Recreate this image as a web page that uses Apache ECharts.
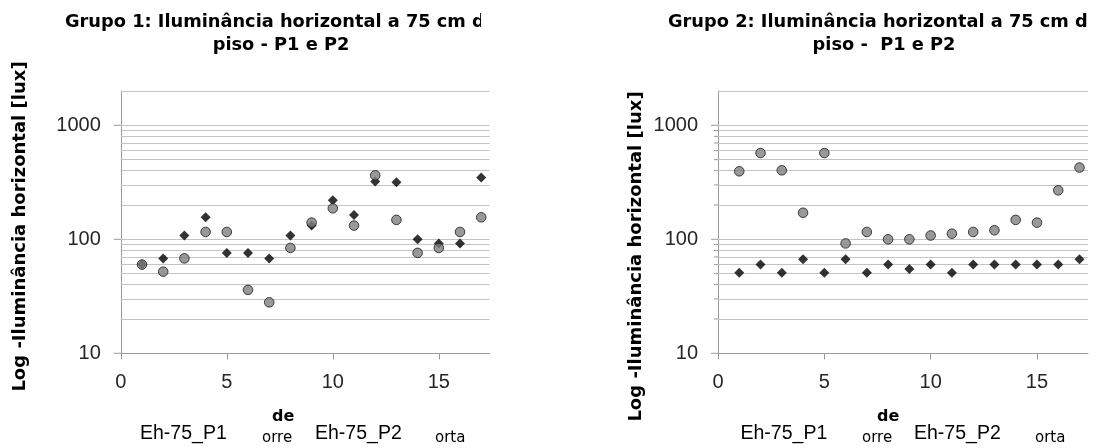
<!DOCTYPE html>
<html><head><meta charset="utf-8">
<script src="https://cdn.jsdelivr.net/npm/echarts@6/dist/echarts.min.js"></script>
<style>html,body{margin:0;padding:0;background:#fff}#c{width:1103px;height:448px}</style>
</head><body><div id="c"></div>
<script>
// ---- data ----
const pointIds = [1,2,3,4,5,6,7,8,9,10,11,12,13,14,15,16,17];
const g1P1 = [60,68,108,156,76,76,68,108,132,220,163,321,316,100,92,92,348];
const g1P2 = [60,52,68,116,116,36,28,84,140,187,132,364,148,76,84,116,156];
const g2P1 = [51,60,51,67,51,67,51,60,55,60,51,60,60,60,60,60,67];
const g2P2 = [395,571,403,171,571,92,116,100,100,108,112,116,120,148,140,269,426];
const xTicks = [0,5,10,15];
const yMajor = [10,100,1000];
const yMinor = [20,30,40,50,60,70,80,90,200,300,400,500,600,700,800,900];
const yTop = 2000;
const titles = ['Grupo 1: Iluminância horizontal a 75 cm do\npiso - P1 e P2',
                'Grupo 2: Iluminância horizontal a 75 cm do\npiso -  P1 e P2'];
const yTitle = 'Log -Iluminância horizontal [lux]';
const seriesNames = ['Eh-75_P1','Eh-75_P2'];
const fragments = ['de','orre','orta'];

// ---- layout ----
const grids = [
  {left:120.8, top:91, width:368.9, height:262.3},
  {left:718, top:91, width:370, height:262.3}
];
const AX = '#9a9a9a', GRIDC = '#c4c4c4';
const tickFont = 'Liberation Sans';

const chart = echarts.init(document.getElementById('c'));

function xAx(i){ return {
  type:'value', gridIndex:i, min:0, max:17.4,
  axisLine:{onZero:false, lineStyle:{color:AX}},
  axisTick:{customValues:xTicks, length:6, lineStyle:{color:AX}},
  axisLabel:{customValues:xTicks, margin:19, fontFamily:tickFont, fontSize:20, color:'#262626'},
  splitLine:{show:false}
};}
function yAx(i){ return {
  type:'log', logBase:10, gridIndex:i, min:10, max:yTop,
  axisLine:{show:true, lineStyle:{color:AX}},
  axisTick:{show:false},
  axisLabel:{margin:20, fontFamily:tickFont, fontSize:20, color:'#262626',
    formatter:v=>{const l=Math.log10(v);return (Math.abs(l-Math.round(l))<1e-6 && v<=1000)?String(Math.round(v)):'';}},
  splitLine:{show:false}, minorSplitLine:{show:false}
};}
function tickSeries(i, values){ return {
  type:'custom', xAxisIndex:i, yAxisIndex:i, silent:true, clip:false,
  data: values.map(v=>[0,v]), encode:{x:0,y:1},
  renderItem:(params, api)=>{
    const v = api.value(1); const p = api.coord([0, v]);
    const l = Math.log10(v); const major = Math.abs(l-Math.round(l))<1e-6;
    const len = major ? 7 : 4;
    return {type:'line', shape:{x1:p[0]-len, y1:p[1], x2:p[0], y2:p[1]}, style:{stroke:AX, lineWidth:1}};
  }
};}
function pts(arr){ return pointIds.map((x,k)=>[x, arr[k]]); }
function groupSeries(i, p1, p2){
  const lines = yMinor.concat([100,1000,yTop]).map(v=>({yAxis:v}));
  return [
    {name:seriesNames[0], type:'scatter', xAxisIndex:i, yAxisIndex:i, data:pts(p1),
     symbol:'diamond', symbolSize:10, itemStyle:{color:'#000'},
     markLine:{z:1, silent:true, symbol:['none','none'], label:{show:false},
       lineStyle:{color:GRIDC, width:1, type:'solid'}, data:lines}},
    {name:seriesNames[1], type:'scatter', xAxisIndex:i, yAxisIndex:i, data:pts(p2),
     symbol:'circle', symbolSize:9.6, itemStyle:{color:'#7f7f7f', borderColor:'#1a1a1a', borderWidth:1}}
  ];
}

const txt = (x,y,text,size,family,weight)=>({type:'text', x:x, y:y, z:10,
  style:{text:text, fontSize:size, fontFamily:family, fontWeight:weight||'normal', fill:'#000',
    align:'left', verticalAlign:'middle'}});

const frag = [
  {de:272, orre:262, e1:140, e2:315, orta:435},
  {de:877, orre:862, e1:740.5, e2:914, orta:1035}
];
const graphics = [];
[281, 884].forEach((cx,i)=>{
  graphics.push({type:'text', x:cx, y:10.4, z:10, style:{text:titles[i], fontSize:17.8, fontFamily:'DejaVu Sans',
    fontWeight:'bold', fill:'#000', align:'center', verticalAlign:'top', lineHeight:23}});
});
graphics.push({type:'rect', z:50, shape:{x:481, y:0, width:90, height:36}, style:{fill:'#fff'}});
graphics.push({type:'rect', z:50, shape:{x:1087, y:0, width:20, height:36}, style:{fill:'#fff'}});
[[20,226.5],[636,256.5]].forEach(([x,y])=>{
  graphics.push({type:'text', x:x, y:y, rotation:Math.PI/2, z:10, style:{text:yTitle, fontSize:18,
    fontFamily:'DejaVu Sans', fontWeight:'bold', fill:'#000', align:'center', verticalAlign:'middle'}});
});
frag.forEach(f=>{
  graphics.push(txt(f.de, 417, fragments[0], 16, 'DejaVu Sans', 'bold'));
  graphics.push(txt(f.orre, 438.5, fragments[1], 15, 'DejaVu Sans'));
  graphics.push(txt(f.orta, 438.5, fragments[2], 15, 'DejaVu Sans'));
  graphics.push(txt(f.e1, 433.5, seriesNames[0], 19.5, 'Liberation Sans'));
  graphics.push(txt(f.e2, 433.5, seriesNames[1], 19.5, 'Liberation Sans'));
});

chart.setOption({
  animation:false,
  backgroundColor:'#fff',
  grid:grids,
  xAxis:[xAx(0), xAx(1)],
  yAxis:[yAx(0), yAx(1)],
  series:[...groupSeries(0,g1P1,g1P2), ...groupSeries(1,g2P1,g2P2), tickSeries(0,yMajor), tickSeries(1,yMajor.concat(yMinor))],
  graphic:{elements:graphics}
});
</script></body></html>
